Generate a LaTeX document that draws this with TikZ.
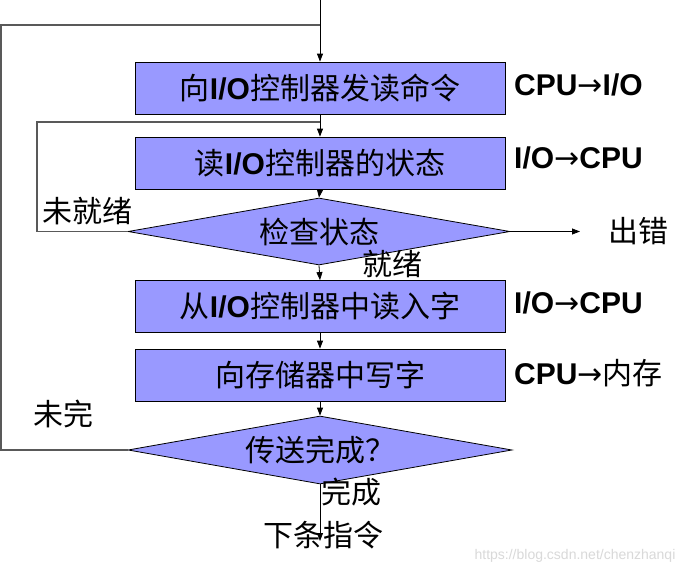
\documentclass[tikz,border=0pt]{standalone}
\usepackage{fontspec}
\setmainfont{Noto Sans CJK SC}
\newfontfamily\lsans{Liberation Sans}
\newfontfamily\cjkf{Noto Sans CJK SC}
\newfontfamily\dvsans{DejaVu Sans}
\usetikzlibrary{shapes.geometric,arrows.meta}
\definecolor{boxfill}{RGB}{153,153,255}
\newcommand\myio{{\lsans\bfseries I/O}}
\newcommand\myarrow{{\mdseries\dvsans →}}
\begin{document}
\begin{tikzpicture}[x=1pt,y=-1pt,
  every node/.style={font=\fontsize{30}{32}\selectfont, inner sep=0pt},
  stepbox/.style={draw=black, fill=boxfill, rectangle, minimum width=370pt, minimum height=52pt, line width=0.8pt},
  decide/.style={draw=black, fill=boxfill, diamond, aspect=5.7, line width=0.8pt},
  conn/.style={draw=black, line width=0.8pt, -{Triangle[length=8pt,width=6pt]}},
  loopline/.style={draw=black!65, line width=1.2pt},
  side/.style={anchor=west, font=\fontsize{30}{32}\selectfont\lsans\bfseries}
]
\useasboundingbox (0,0) rectangle (697,573);
\fill[white] (0,0) rectangle (697,573);

\node[stepbox] (b1) at (320,88) {向\myio 控制器发读命令};
\node[stepbox] (b2) at (320,163) {读\myio 控制器的状态};
\node[decide, minimum width=382pt, minimum height=67pt] (d1) at (319,231.5) {检查状态};
\node[stepbox] (b3) at (320,306.5) {从\myio 控制器中读入字};
\node[stepbox] (b4) at (320,375) {向存储器中写字};
\node[decide, minimum width=384pt, minimum height=68pt] (d2) at (320,450) {传送完成？};

% side labels
\node[side] (s1) at (514,85) {CPU\myarrow I/O};
\node[side] (s2) at (514,158) {I/O\myarrow CPU};
\node[side] (s3) at (514,303) {I/O\myarrow CPU};
\node[side] (s4) at (514,373) {CPU\myarrow{\mdseries\cjkf 内存}};

% coordinates
\coordinate (top) at (320,0);
\coordinate (j2) at (320,25);
\coordinate (j1) at (320,122);
\coordinate (err) at (580,231.5);
\coordinate (endp) at (320,541);
\coordinate (l1a) at (37,231.5);
\coordinate (l1b) at (37,122);
\coordinate (l2a) at (1,450);
\coordinate (l2b) at (1,25);

% connectors
\draw[conn] (top) -- (b1.north);
\draw[conn] (b1.south) -- (b2.north);
\draw[conn] (b2.south) -- (d1.north);
\draw[conn] (d1.east) -- (err);
\draw[conn] (d1.south) -- (b3.north);
\draw[conn] (b3.south) -- (b4.north);
\draw[conn] (b4.south) -- (d2.north);
\draw[conn] (d2.south) -- (endp);
\draw[loopline] (d1.west) -- (l1a) -- (l1b) -- (j1);
\draw[loopline] (d2.west) -- (l2a) -- (l2b) -- (j2);

% labels
\node (lerr) at (638,231) {出错};
\node (lready) at (392,264) {就绪};
\node (lnotready) at (87,211) {未就绪};
\node (lnotdone) at (64,414) {未完};
\node (ldone) at (351,492) {完成};
\node (lnext) at (323,535) {下条指令};
\node[font=\fontsize{14}{16}\selectfont\lsans, text=black!15] (wm) at (575,556) {https://blog.csdn.net/chenzhanqi};
\end{tikzpicture}
\end{document}
